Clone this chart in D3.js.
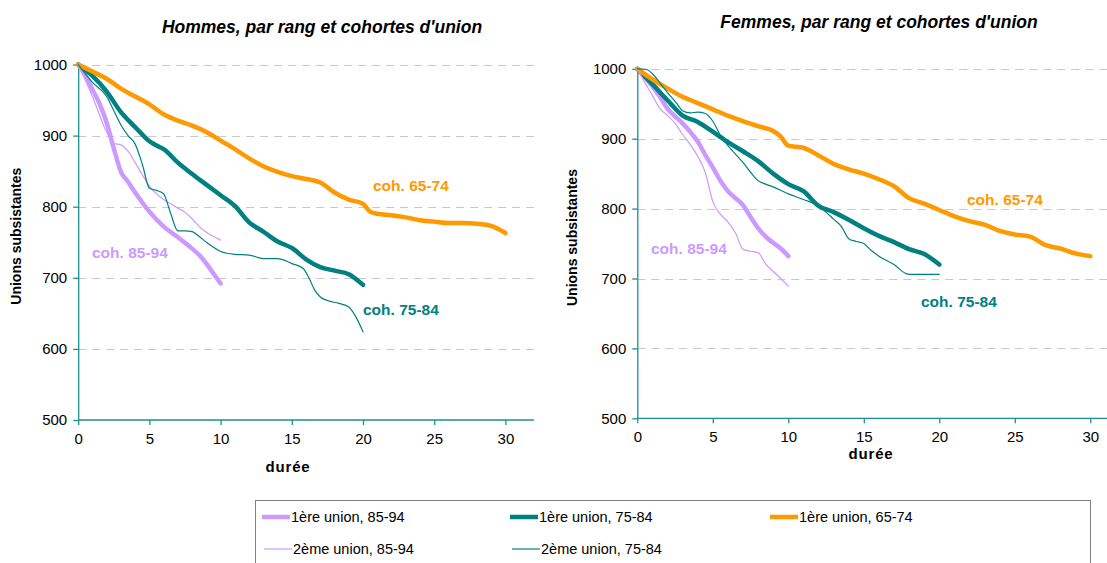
<!DOCTYPE html>
<html>
<head>
<meta charset="utf-8">
<script src="https://cdn.jsdelivr.net/npm/d3@7"></script>
<style>
  html, body { margin: 0; padding: 0; background: #fff; }
  svg { display: block; font-family: Arial, "Liberation Sans", sans-serif; }
</style>
</head>
<body>
<svg id="chart" width="1107" height="563"></svg>
<script>
// Durées (années) et unions subsistantes pour 1000 unions
const xTicks = [0, 5, 10, 15, 20, 25, 30];
const yTicks = [500, 600, 700, 800, 900, 1000];

// Hommes
const hDuree1_6574 = [0,1,2,3,4,5,6,7,8,9,10,11,12,13,14,15,16,17,18,19,20,20.5,21,22,23,24,25,26,27,28,29,30];
const hUnions1_6574 = [1000,990,980,966,955,944,930,921,914,905,893,881,868,857,849,843,839,834,820,810,804,793,790,788,785,781,779,777,777,776,773,763];
const hDuree1_7584 = [0,1,2,3,4,5,5.5,6,7,8,9,10,11,12,13,14,15,16,17,18,19,20];
const hUnions1_7584 = [1000,984,962,933,912,892,886,881,862,846,831,816,801,778,765,751,742,726,715,710,705,690];
const hDuree1_8594 = [0,0.5,1,1.5,2,2.5,3,3.5,4,5,6,7,8,8.5,9,9.5,10];
const hUnions1_8594 = [1000,985,965,945,918,882,849,835,820,793,772,757,741,732,720,706,692];
const hDuree2_8594 = [0,1,2,2.5,3,3.5,4,4.5,5,5.5,6,6.5,7,7.5,8,8.5,9,9.5,10];
const hUnions2_8594 = [1000,955,905,889,887,878,862,845,829,818,810,804,798,792,783,772,764,758,753];
const hDuree2_7584 = [0,1,2,2.5,3,3.5,4,4.5,5,5.5,6,6.5,7,7.5,8,8.5,9,9.5,10,11,12,13,14,15,15.8,16.2,16.6,17,17.5,18.3,19,19.5,20];
const hUnions2_7584 = [1000,975,955,935,915,900,888,860,826,823,818,790,766,766,765,758,750,743,737,733,732,727,727,720,713,700,683,673,668,664,659,645,624];

// Femmes
const fDuree1_6574 = [0,1,2,3,4,5,6,7,8,9,9.5,10,11,12,13,14,15,16,17,18,19,20,21,22,23,24,25,26,27,28,29,30];
const fUnions1_6574 = [1000,985,972,960,951,942,933,925,918,911,903,890,887,876,864,856,850,842,832,815,807,798,789,782,777,768,763,760,748,743,736,732];
const fDuree1_7584 = [0,1,2,3,4,5,6,7,8,9,10,11,12,13,14,15,16,17,18,19,20];
const fUnions1_7584 = [1000,978,955,933,924,910,895,882,868,850,835,825,804,795,784,772,761,752,742,735,720];
const fDuree1_8594 = [0,0.5,1,1.5,2,2.5,3,3.5,4,4.5,5,5.5,6,6.5,7,7.5,8,8.5,9,9.5,10];
const fUnions1_8594 = [1000,988,975,960,943,932,922,910,896,877,859,840,825,815,805,788,772,760,751,743,732];
const fDuree2_8594 = [0,0.5,1,1.5,2,2.5,3,3.5,4,4.5,5,5.5,6,6.5,7,7.5,8,8.5,9,9.5,10];
const fUnions2_8594 = [1000,980,962,943,933,922,906,892,875,852,810,792,781,765,742,739,737,721,710,700,689];
const fDuree2_7584 = [0,0.6,1,1.5,2,2.6,3,3.5,4,4.5,5,5.5,6,6.5,7,7.5,8,8.5,9,10,11,12,12.5,13,13.5,14,14.5,15,15.5,16,17,17.8,18,20];
const fUnions2_7584 = [1000,999,993,980,966,951,940,937,938,936,925,905,890,878,866,852,840,835,831,821,813,804,795,785,775,757,753,750,740,732,720,707,706,706];

const seriesNames = ["1ère union, 85-94", "1ère union, 75-84", "1ère union, 65-74", "2ème union, 85-94", "2ème union, 75-84"];
const cohortLabels = ["coh. 85-94", "coh. 75-84", "coh. 65-74"];

const LAV = "#cc99ff", TEAL = "#008080", ORANGE = "#ff9900";
const styles = [
  { color: LAV, width: 4.5 },
  { color: TEAL, width: 4.5 },
  { color: ORANGE, width: 4.5 },
  { color: LAV, width: 1.2 },
  { color: TEAL, width: 1.2 }
];

const zip = (xs, ys) => xs.map((x, i) => ({ x, y: ys[i] }));

const panels = [
  {
    title: "Hommes, par rang et cohortes d'union",
    titleX: 322, titleY: 33,
    x0: 78.2, x1: 533.9, y0: 420, y1: 64.5,
    xMax: 32, clipRight: 533.9,
    yTitleX: 21, xTitle: { x: 288, y: 472 },
    series: [
      zip(hDuree1_8594, hUnions1_8594),
      zip(hDuree1_7584, hUnions1_7584),
      zip(hDuree1_6574, hUnions1_6574),
      zip(hDuree2_8594, hUnions2_8594),
      zip(hDuree2_7584, hUnions2_7584)
    ],
    labels: [
      { text: cohortLabels[0], x: 92, y: 258, color: LAV },
      { text: cohortLabels[1], x: 363, y: 315, color: TEAL },
      { text: cohortLabels[2], x: 373, y: 191, color: ORANGE }
    ]
  },
  {
    title: "Femmes, par rang et cohortes d'union",
    titleX: 879, titleY: 28,
    x0: 637.3, x1: 637.3 + 32 * 15.1, y0: 418.3, y1: 68.8,
    xMax: 32, clipRight: 1107,
    yTitleX: 577, xTitle: { x: 871, y: 459 },
    series: [
      zip(fDuree1_8594, fUnions1_8594),
      zip(fDuree1_7584, fUnions1_7584),
      zip(fDuree1_6574, fUnions1_6574),
      zip(fDuree2_8594, fUnions2_8594),
      zip(fDuree2_7584, fUnions2_7584)
    ],
    labels: [
      { text: cohortLabels[0], x: 651, y: 254, color: LAV },
      { text: cohortLabels[1], x: 921, y: 307, color: TEAL },
      { text: cohortLabels[2], x: 967, y: 205, color: ORANGE }
    ]
  }
];

const svg = d3.select("#chart");

panels.forEach(p => {
  const x = d3.scaleLinear().domain([0, p.xMax]).range([p.x0, p.x1]);
  const y = d3.scaleLinear().domain([500, 1000]).range([p.y0, p.y1]);
  const g = svg.append("g");
  const right = Math.min(p.x1, p.clipRight);

  // Title
  g.append("text")
    .attr("x", p.titleX).attr("y", p.titleY)
    .attr("text-anchor", "middle")
    .style("font-size", "17.5px").style("font-weight", "bold").style("font-style", "italic")
    .attr("fill", "#000")
    .text(p.title);

  // Dashed gridlines
  g.append("g").selectAll("line")
    .data(yTicks.filter(t => t > 500))
    .join("line")
    .attr("x1", p.x0).attr("x2", right)
    .attr("y1", d => Math.round(y(d)) + 0.5).attr("y2", d => Math.round(y(d)) + 0.5)
    .attr("stroke", "#c8c8c8").attr("stroke-width", 1)
    .attr("stroke-dasharray", "8,6");

  // Y axis
  const yAxis = g.append("g")
    .attr("transform", `translate(${p.x0},0)`)
    .call(d3.axisLeft(y).tickValues(yTicks).tickFormat(d3.format("d"))
      .tickSize(5).tickPadding(6).tickSizeOuter(0));
  // X axis
  const xAxis = g.append("g")
    .attr("transform", `translate(0,${p.y0})`)
    .call(d3.axisBottom(x).tickValues(xTicks).tickFormat(d3.format("d"))
      .tickSize(5).tickPadding(8).tickSizeOuter(0));
  [yAxis, xAxis].forEach(a => {
    a.attr("font-size", null).attr("font-family", null);
    a.select(".domain").attr("stroke", "#1a9090").attr("stroke-width", 1.3);
    a.selectAll(".tick line").attr("stroke", "#1a9090").attr("stroke-width", 1.3);
    a.selectAll(".tick text").style("font-size", "15px").attr("fill", "#000");
  });
  xAxis.select(".domain").attr("d", `M${p.x0},0H${right}`);

  // Axis titles
  g.append("text")
    .attr("transform", `translate(${p.yTitleX},${(p.y0 + p.y1) / 2 - 6}) rotate(-90)`)
    .attr("text-anchor", "middle")
    .style("font-size", "14px").style("font-weight", "bold").attr("fill", "#000")
    .text("Unions subsistantes");
  g.append("text")
    .attr("x", p.xTitle.x).attr("y", p.xTitle.y)
    .attr("text-anchor", "middle")
    .style("font-size", "15px").style("font-weight", "bold").attr("letter-spacing", 0.8).attr("fill", "#000")
    .text("durée");

  // Curves
  const line = d3.line().x(d => x(d.x)).y(d => y(d.y)).curve(d3.curveMonotoneX);
  p.series.forEach((s, i) => {
    g.append("path")
      .datum(s)
      .attr("d", line)
      .attr("fill", "none")
      .attr("stroke", styles[i].color)
      .attr("stroke-width", styles[i].width)
      .attr("stroke-linecap", "round")
      .attr("stroke-linejoin", "round");
  });

  // Cohort labels
  g.selectAll("text.coh")
    .data(p.labels)
    .join("text")
    .attr("class", "coh")
    .attr("x", d => d.x).attr("y", d => d.y)
    .style("font-size", "15.5px").style("font-weight", "bold")
    .attr("fill", d => d.color)
    .text(d => d.text);
});

// Legend
const legend = svg.append("g");
legend.append("rect")
  .attr("x", 255.5).attr("y", 500.5)
  .attr("width", 835).attr("height", 80)
  .attr("fill", "#fff").attr("stroke", "#808080").attr("stroke-width", 1);

const legendPos = [
  { x: 262, y: 517 }, { x: 510, y: 517 }, { x: 770, y: 517 },
  { x: 264, y: 549 }, { x: 512, y: 549 }
];
seriesNames.forEach((name, i) => {
  const pos = legendPos[i];
  const item = legend.append("g").attr("transform", `translate(${pos.x},${pos.y})`);
  item.append("line")
    .attr("x1", 0).attr("x2", 28).attr("y1", 0).attr("y2", 0)
    .attr("stroke", styles[i].color)
    .attr("stroke-width", styles[i].width);
  item.append("text")
    .attr("x", 29).attr("y", 5)
    .style("font-size", "14.5px").attr("fill", "#000")
    .text(name);
});
</script>
</body>
</html>
